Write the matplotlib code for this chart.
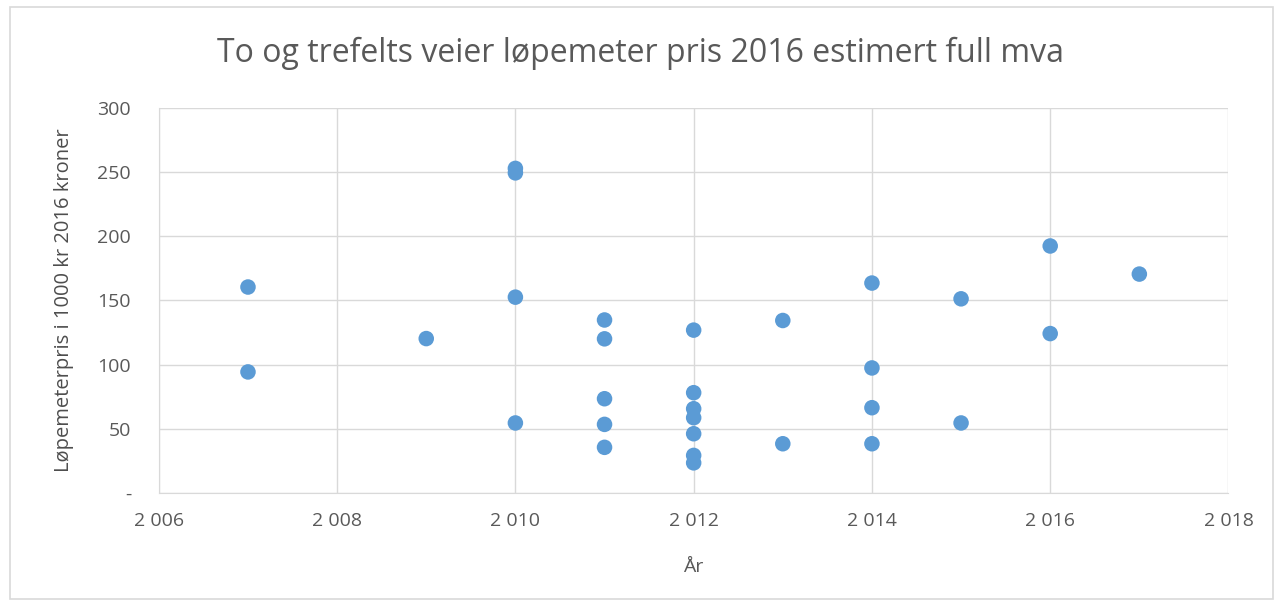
# -*- coding: utf-8 -*-
"""Scatter: two- and three-lane road cost per metre."""
import matplotlib

matplotlib.use("Agg")
import matplotlib.pyplot as plt
from matplotlib.patches import Rectangle
from matplotlib.ticker import FuncFormatter

plt.rcParams["font.family"] = ["Open Sans", "DejaVu Sans"]

years = [2007, 2007, 2009,
         2010, 2010, 2010, 2010,
         2011, 2011, 2011, 2011, 2011,
         2012, 2012, 2012, 2012, 2012, 2012, 2012,
         2013, 2013,
         2014, 2014, 2014, 2014,
         2015, 2015,
         2016, 2016,
         2017]
prices = [160.5, 94.3, 120.3,
          253, 249.5, 152.6, 54.5,
          134.8, 120.1, 73.4, 53.4, 35.5,
          126.9, 78.1, 65.6, 58.6, 46.1, 29.2, 23.4,
          134.4, 38.3,
          163.6, 97.4, 66.4, 38.3,
          151.3, 54.5,
          192.5, 124.2,
          170.6]

title = "To og trefelts veier løpemeter pris 2016 estimert full mva"
x_label = "År"
y_label = "Løpemeterpris i 1000 kr 2016 kroner"

TEXT = "#595959"
GRID = "#d9d9d9"
DOT = "#5b9bd5"

fig = plt.figure(figsize=(12.81, 6.04), dpi=100)
fig.patches.append(Rectangle((0.008, 0.008), 0.986, 0.98, transform=fig.transFigure,
                             fill=False, edgecolor=GRID, linewidth=1.2))
ax = fig.add_axes([0.124, 0.184, 0.835, 0.637])

ax.scatter(years, prices, s=125, color=DOT, edgecolors="none", zorder=3)

ax.set_xlim(2006, 2018)
ax.set_ylim(0, 300)
ax.set_xticks(range(2006, 2019, 2))
ax.set_yticks(range(0, 301, 50))


def thousands(v, _):
    return f"{int(v):,}".replace(",", " ")


ax.xaxis.set_major_formatter(FuncFormatter(thousands))
ax.yaxis.set_major_formatter(FuncFormatter(lambda v, _: "-" if v == 0 else f"{int(v)}"))

ax.grid(True, color=GRID, linewidth=1.0, zorder=0)
for side in ["top", "right"]:
    ax.spines[side].set_visible(False)
for side in ["left", "bottom"]:
    ax.spines[side].set_color(GRID)
ax.tick_params(length=0, labelsize=14, colors=TEXT)
ax.tick_params(axis="x", pad=14)
ax.tick_params(axis="y", pad=20)

ax.set_xlabel(x_label, fontsize=14, color=TEXT, labelpad=20)
ax.set_ylabel(y_label, fontsize=14.5, color="#4d4d4d", labelpad=17)
fig.text(0.5, 0.912, title, ha="center", va="center", fontsize=23, color=TEXT)

plt.savefig("out.png", dpi=100)
plt.close()
